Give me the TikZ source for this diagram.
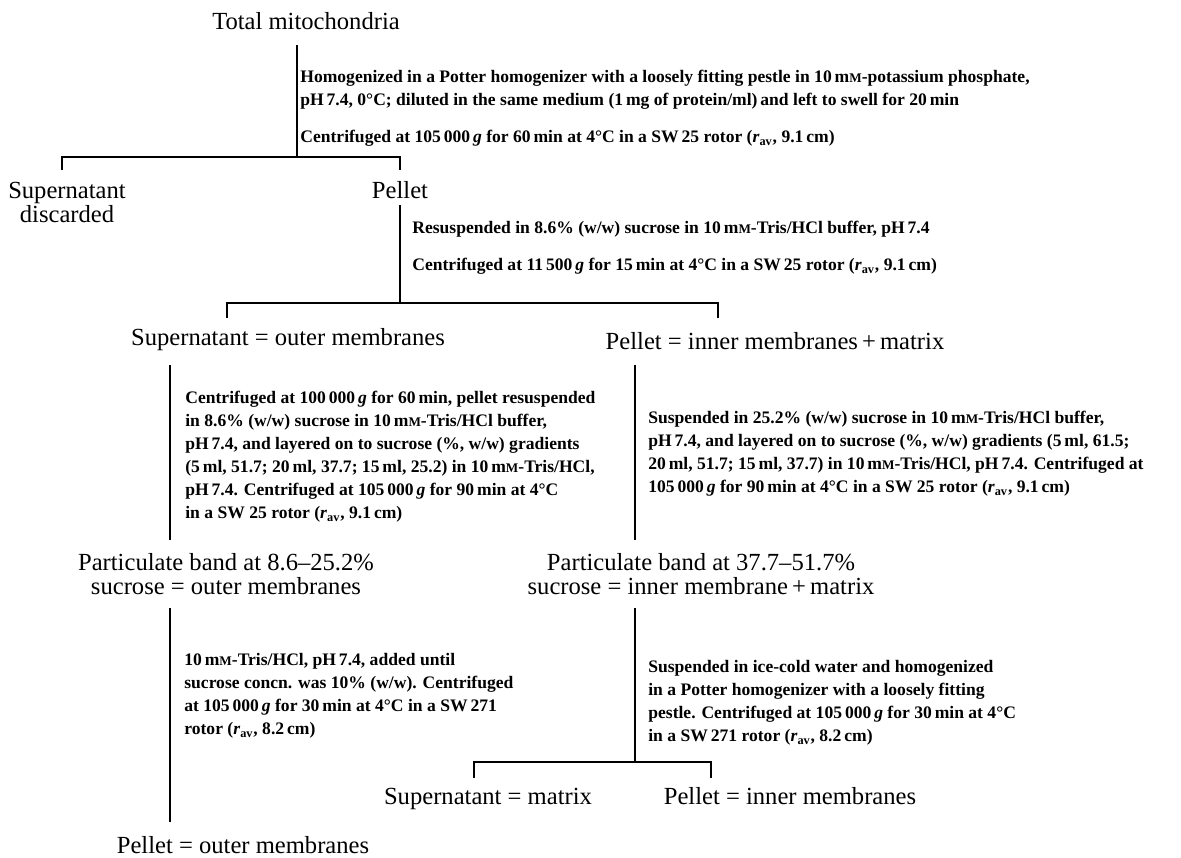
\documentclass[tikz,border=0pt]{standalone}
\usepackage{fontspec}
\usepackage{graphicx}
\setmainfont{Liberation Serif}
\newcommand\mM{m\scalebox{0.75}{M}}
\newcommand\rav{\textit{r}\textsubscript{av}}
\newcommand\gf{\textit{g}}
\begin{document}
\begin{tikzpicture}[x=0.02cm,y=-0.02cm,
  big/.style={font=\fontsize{14}{13.7}\selectfont, inner sep=0pt, anchor=base},
  bigml/.style={font=\fontsize{14}{13.7}\selectfont, inner sep=0pt, align=center, anchor=north},
  note/.style={font=\bfseries\fontsize{10}{13.1}\selectfont, inner sep=0pt, align=left, anchor=north west},
  link/.style={line width=0.8pt}]
\useasboundingbox (0,0) rectangle (1181,858);

% nodes
\node[big] (total) at (306,30) {Total mitochondria};
\node[note] (hom) at (300,70) {Homogenized in a Potter homogenizer with a loosely fitting pestle in 10\,\mM-potassium phosphate,\\pH\,7.4, 0°C; diluted in the same medium (1\,mg of protein/ml)\,and left to swell for 20\,min\\[8pt]Centrifuged at 105\,000\,\gf{} for 60\,min at 4°C in a SW\,25 rotor (\rav, 9.1\,cm)};
\node[bigml] (sup1) at (67,182) {Supernatant\\discarded};
\node[big] (pel1) at (400,199) {Pellet};
\node[note] (res) at (412,221) {Resuspended in 8.6\% (w/w) sucrose in 10\,\mM-Tris/HCl buffer, pH\,7.4\\[8pt]Centrifuged at 11\,500\,\gf{} for 15\,min at 4°C in a SW\,25 rotor (\rav, 9.1\,cm)};
\node[big] (sup2) at (288,346) {Supernatant = outer membranes};
\node[big] (pel2) at (775,350) {Pellet = inner membranes\,+\,matrix};
\node[note] (c1) at (185,391) {Centrifuged at 100\,000\,\gf{} for 60\,min, pellet resuspended\\in 8.6\% (w/w) sucrose in 10\,\mM-Tris/HCl buffer,\\pH\,7.4, and layered on to sucrose (\%, w/w) gradients\\(5\,ml, 51.7; 20\,ml, 37.7; 15\,ml, 25.2) in 10\,\mM-Tris/HCl,\\pH\,7.4. Centrifuged at 105\,000\,\gf{} for 90\,min at 4°C\\in a SW 25 rotor (\rav, 9.1\,cm)};
\node[note] (s1) at (648,411) {Suspended in 25.2\% (w/w) sucrose in 10\,\mM-Tris/HCl buffer,\\pH\,7.4, and layered on to sucrose (\%, w/w) gradients (5\,ml, 61.5;\\20\,ml, 51.7; 15\,ml, 37.7) in 10\,\mM-Tris/HCl, pH\,7.4. Centrifuged at\\105\,000\,\gf{} for 90\,min at 4°C in a SW 25 rotor (\rav, 9.1\,cm)};
\node[bigml] (part1) at (226,553) {Particulate band at 8.6--25.2\%\\sucrose = outer membranes};
\node[bigml] (part2) at (701,553) {Particulate band at 37.7--51.7\%\\sucrose = inner membrane\,+\,matrix};
\node[note] (c2) at (184,653) {10\,\mM-Tris/HCl, pH\,7.4, added until\\sucrose concn. was 10\% (w/w). Centrifuged\\at 105\,000\,\gf{} for 30\,min at 4°C in a SW\,271\\rotor (\rav, 8.2\,cm)};
\node[note] (s2) at (648,660) {Suspended in ice-cold water and homogenized\\in a Potter homogenizer with a loosely fitting\\pestle. Centrifuged at 105\,000\,\gf{} for 30\,min at 4°C\\in a SW\,271 rotor (\rav, 8.2\,cm)};
\node[big] (supm) at (488,804) {Supernatant = matrix};
\node[big] (pelim) at (790,804) {Pellet = inner membranes};
\node[big] (pelom) at (243,853) {Pellet = outer membranes};

% junctions and line ends
\coordinate (t0) at (297,45);
\coordinate (j1) at (297,157);
\coordinate (ta) at (62,170);
\coordinate (tb) at (400,170);
\coordinate (p1) at (400,205);
\coordinate (j2) at (400,303);
\coordinate (tc) at (227,318);
\coordinate (td) at (718,318);
\coordinate (la1) at (170,365);
\coordinate (la2) at (170,540);
\coordinate (ra1) at (635,365);
\coordinate (ra2) at (635,540);
\coordinate (lb1) at (170,608);
\coordinate (lb2) at (170,822);
\coordinate (rb1) at (635,608);
\coordinate (j3) at (635,762);
\coordinate (te) at (474,778);
\coordinate (tf) at (711,778);

% connectors
\draw[link] (t0) -- (j1);
\draw[link] (ta) |- (j1) -| (tb);
\draw[link] (p1) -- (j2);
\draw[link] (tc) |- (j2) -| (td);
\draw[link] (la1) -- (la2);
\draw[link] (ra1) -- (ra2);
\draw[link] (lb1) -- (lb2);
\draw[link] (rb1) -- (j3);
\draw[link] (te) |- (j3) -| (tf);
\end{tikzpicture}
\end{document}
